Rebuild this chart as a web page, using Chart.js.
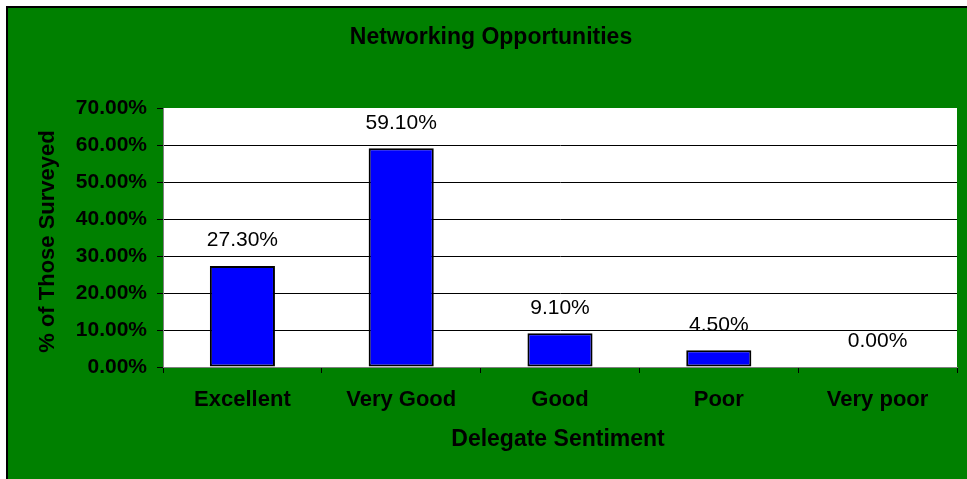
<!DOCTYPE html>
<html>
<head>
<meta charset="utf-8">
<script src="https://cdn.jsdelivr.net/npm/chart.js@4.4.0/dist/chart.umd.min.js"></script>
<style>
  html, body { margin: 0; padding: 0; background: #ffffff; }
  #wrap { width: 967px; height: 479px; position: relative; }
  canvas { display: block; }
</style>
</head>
<body>
<div id="wrap"><canvas id="c" width="967" height="479"></canvas></div>
<script>
const chartTitle = 'Networking Opportunities';
const xAxisTitle = 'Delegate Sentiment';
const yAxisTitle = '% of Those Surveyed';
const categories = ['Excellent', 'Very Good', 'Good', 'Poor', 'Very poor'];
const percentValues = [27.3, 59.1, 9.1, 4.5, 0.0];
const yTickMax = 70;
const yTickStep = 10;

const FONT = '"Liberation Sans", Arial, Helvetica, sans-serif';
const GREEN = '#008000';

const backgroundPlugin = {
  id: 'bg',
  beforeDraw(chart) {
    const ctx = chart.ctx;
    const w = chart.width, h = chart.height;
    ctx.save();
    ctx.fillStyle = '#ffffff';
    ctx.fillRect(0, 0, w, h);
    ctx.fillStyle = '#000000';
    ctx.fillRect(6, 6, w - 6, h - 6);
    ctx.fillStyle = GREEN;
    ctx.fillRect(8, 8, w - 8, h - 8);
    const a = chart.chartArea;
    ctx.fillStyle = '#ffffff';
    ctx.fillRect(a.left, a.top, a.right - a.left, a.bottom - a.top);
    ctx.restore();
  }
};

const textPlugin = {
  id: 'texts',
  afterDraw(chart) {
    const ctx = chart.ctx;
    const a = chart.chartArea;
    ctx.save();
    ctx.fillStyle = '#000000';
    ctx.textAlign = 'center';
    ctx.textBaseline = 'middle';
    ctx.font = 'bold 23px ' + FONT;
    ctx.fillText(chartTitle, 491, 38);
    ctx.fillText(xAxisTitle, (a.left + a.right) / 2 - 2, 440);
    ctx.translate(48, (a.top + a.bottom) / 2 + 4);
    ctx.rotate(-Math.PI / 2);
    ctx.font = 'bold 22px ' + FONT;
    ctx.fillText(yAxisTitle, 0, 0);
    ctx.restore();
  }
};

const valueLabelPlugin = {
  id: 'valueLabels',
  afterDatasetsDraw(chart) {
    const ctx = chart.ctx;
    const meta = chart.getDatasetMeta(0);
    const data = chart.data.datasets[0].data;
    ctx.save();
    ctx.font = '21px ' + FONT;
    ctx.fillStyle = '#000000';
    ctx.textAlign = 'center';
    ctx.textBaseline = 'middle';
    meta.data.forEach((bar, i) => {
      ctx.fillText(data[i].toFixed(2) + '%', bar.x, bar.y - 25.5);
    });
    ctx.restore();
  }
};

new Chart(document.getElementById('c'), {
  type: 'bar',
  data: {
    labels: categories,
    datasets: [{
      data: percentValues,
      backgroundColor: '#0000ff',
      borderColor: '#000000',
      borderWidth: 2,
      borderSkipped: false,
      categoryPercentage: 1.0,
      barPercentage: 0.41
    }]
  },
  options: {
    responsive: false,
    animation: false,
    devicePixelRatio: 1,
    layout: { padding: { left: 8, right: 10, top: 108, bottom: 0 } },
    plugins: {
      legend: { display: false },
      tooltip: { enabled: false },
      title: { display: false }
    },
    scales: {
      x: {
        offset: true,
        grid: {
          display: true,
          offset: true,
          drawOnChartArea: false,
          drawTicks: true,
          tickLength: 6,
          tickColor: '#000000'
        },
        border: { display: true, color: '#808080', width: 1 },
        ticks: {
          color: '#000000',
          padding: 14,
          font: { family: FONT, size: 22, weight: 'bold', lineHeight: 1.2 }
        },
        title: { display: false },
        afterFit(scale) { scale.height = 112; }
      },
      y: {
        min: 0,
        max: yTickMax,
        grid: {
          color: (c) => (c.tick && c.tick.value === yTickMax) ? 'rgba(0,0,0,0)' : (c.tick && c.tick.value === 0 ? '#808080' : '#000000'),
          tickColor: '#000000',
          tickLength: 6,
          lineWidth: 1
        },
        border: { display: true, color: '#808080', width: 1 },
        ticks: {
          stepSize: yTickStep,
          color: '#000000',
          padding: 10,
          font: { family: FONT, size: 21, weight: 'bold' },
          callback: (v) => Number(v).toFixed(2) + '%'
        },
        title: { display: false },
        afterFit(scale) { scale.width = 155; }
      }
    }
  },
  plugins: [backgroundPlugin, valueLabelPlugin, textPlugin]
});
</script>
</body>
</html>
